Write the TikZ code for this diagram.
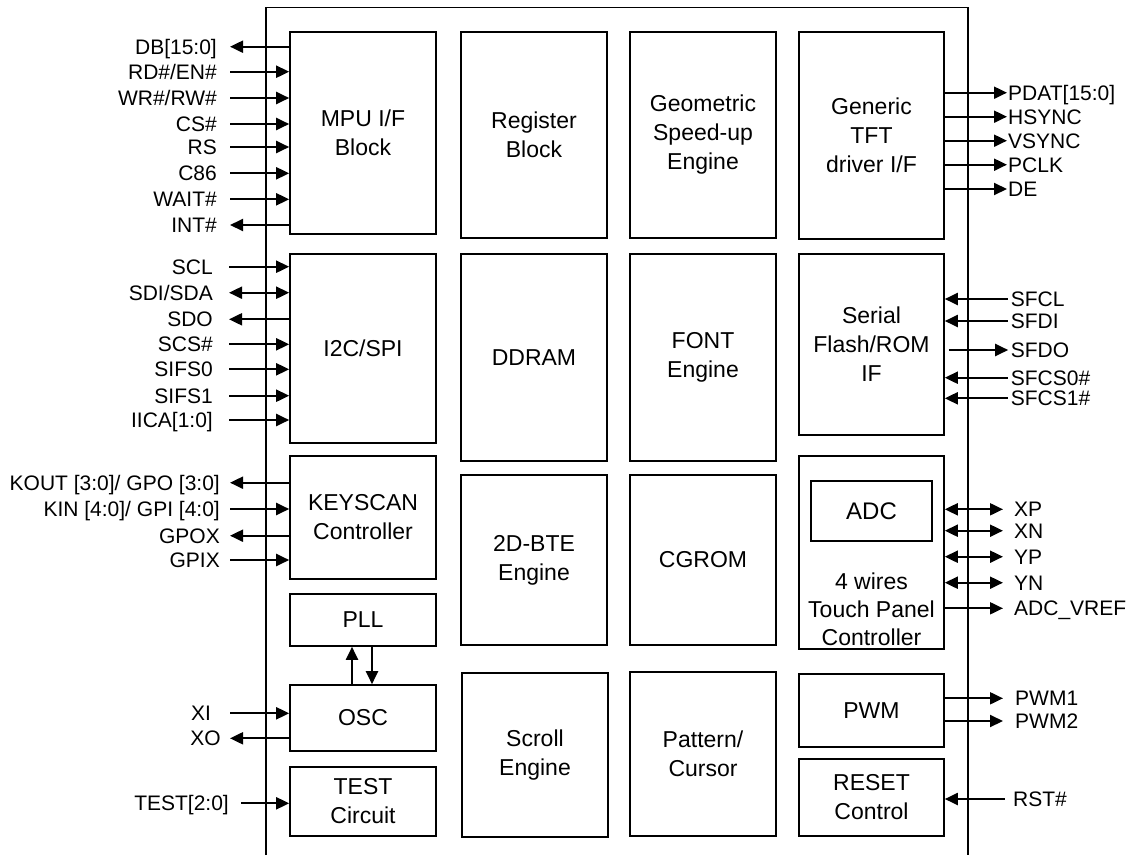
\documentclass[tikz,border=0pt]{standalone}
\usepackage{fontspec}
\setmainfont{Liberation Sans}
\usetikzlibrary{arrows.meta}
\tikzset{
  blk/.style={draw, line width=1.6pt, inner sep=0pt, align=center, font=\fontsize{23}{29}\selectfont},
  pinl/.style={inner sep=0pt, text height=15pt, text depth=0pt, font=\fontsize{21}{25}\selectfont},
  wire/.style={line width=2pt},
  ar/.style={-{Triangle[length=13pt,width=12pt]}},
  ra/.style={{Triangle[length=13pt,width=12pt]}-},
  rar/.style={{Triangle[length=13pt,width=12pt]}-{Triangle[length=13pt,width=12pt]}},
}
\begin{document}
\begin{tikzpicture}[x=1pt,y=-1pt]
\useasboundingbox (0,0) rectangle (1133,855);
% chip outline
\draw[line width=1.6pt] (266,855) -- (266,7.5) -- (968,7.5) -- (968,855);
% column 1
\node[blk, minimum width=146pt, minimum height=202pt] (mpu) at (363,133) {MPU I/F\\Block};
\node[blk, minimum width=146pt, minimum height=189pt] (i2c) at (363,348.5) {I2C/SPI};
\node[blk, minimum width=146pt, minimum height=123pt] (key) at (363,517.5) {KEYSCAN\\Controller};
\node[blk, minimum width=146pt, minimum height=52pt] (pll) at (363,620) {PLL};
\node[blk, minimum width=146pt, minimum height=66pt] (osc) at (363,718) {OSC};
\node[blk, minimum width=146pt, minimum height=69pt] (tst) at (363,801.5) {TEST\\Circuit};
% column 2
\node[blk, minimum width=146pt, minimum height=206pt] (reg) at (534,135) {Register\\Block};
\node[blk, minimum width=146pt, minimum height=207pt] (ddr) at (534,357.5) {DDRAM};
\node[blk, minimum width=146pt, minimum height=170pt] (bte) at (534,560) {2D-BTE\\Engine};
\node[blk, minimum width=146pt, minimum height=164pt] (scr) at (535,755) {Scroll\\Engine};
% column 3
\node[blk, minimum width=146pt, minimum height=206pt] (geo) at (703,135) {Geometric\\Speed-up\\Engine};
\node[blk, minimum width=146pt, minimum height=207pt] (fnt) at (703,357.5) {FONT\\Engine};
\node[blk, minimum width=146pt, minimum height=170pt] (cgr) at (703,560) {CGROM};
\node[blk, minimum width=146pt, minimum height=164pt] (pat) at (703,754) {Pattern/\\Cursor};
% column 4
\node[blk, minimum width=145pt, minimum height=207pt] (tft) at (871.5,135.5) {Generic\\TFT\\driver I/F};
\node[blk, minimum width=145pt, minimum height=181pt] (sfl) at (871.5,344.5) {Serial\\Flash/ROM\\IF};
\node[blk, minimum width=145pt, minimum height=193pt] (tch) at (871.5,552.5) {};
\node[blk, minimum width=121pt, minimum height=60pt, font=\fontsize{24}{29}\selectfont] (adc) at (871.5,511) {ADC};
\node[align=center, inner sep=0pt, font=\fontsize{23}{28}\selectfont] (tchtxt) at (871.5,609) {4 wires\\Touch Panel\\Controller};
\node[blk, minimum width=145pt, minimum height=73pt] (pwm) at (871.5,710.5) {PWM};
\node[blk, minimum width=145pt, minimum height=77pt] (rst) at (871.5,797.5) {RESET\\Control};
% PLL <-> OSC
\draw[wire, ar] ([xshift=-11pt]osc.north) -- ([xshift=-11pt]pll.south);
\draw[wire, ar] ([xshift=9pt]pll.south) -- ([xshift=9pt]osc.north);
% MPU pins
\foreach \yy/\lab/\nm/\sty in {46.7/{DB[15:0]}/pa/ra, 71.7/{RD\#/EN\#}/pb/ar, 98/{WR\#/RW\#}/pc/ar,
  124/{CS\#}/pd/ar, 147/{RS}/pe/ar, 173.3/{C86}/pf/ar, 199.3/{WAIT\#}/pg/ar, 225/{INT\#}/ph/ra}{
  \node[pinl, anchor=east] (\nm) at (217,\yy) {\lab};
  \draw[wire, \sty, shorten <=13pt] (\nm.east) -- (\nm.east -| mpu.west);
}
% I2C pins
\foreach \yy/\lab/\nm/\sty in {266.7/{SCL}/qa/ar, 292.7/{SDI/SDA}/qb/rar, 319.3/{SDO}/qc/ra,
  344.3/{SCS\#}/qd/ar, 369.3/{SIFS0}/qe/ar, 395.7/{SIFS1}/qf/ar, 420/{IICA[1:0]}/qg/ar}{
  \node[pinl, anchor=east] (\nm) at (213,\yy) {\lab};
  \draw[wire, \sty, shorten <=16pt] (\nm.east) -- (\nm.east -| i2c.west);
}
% KEYSCAN pins
\foreach \yy/\lab/\nm/\sty in {482.7/{KOUT [3:0]/ GPO [3:0]}/ka/ra, 509/{KIN [4:0]/ GPI [4:0]}/kb/ar,
  535.7/{GPOX}/kc/ra, 560/{GPIX}/kd/ar}{
  \node[pinl, anchor=east] (\nm) at (220,\yy) {\lab};
  \draw[wire, \sty, shorten <=10pt] (\nm.east) -- (\nm.east -| key.west);
}
% OSC pins
\node[pinl, anchor=west] (xi) at (191,713.3) {XI};
\draw[wire, ar, shorten <=19pt] (xi.east) -- (xi.east -| osc.west);
\node[pinl, anchor=east] (xo) at (221,738.3) {XO};
\draw[wire, ra, shorten <=9pt] (xo.east) -- (xo.east -| osc.west);
% TEST pins
\node[pinl, anchor=east] (tp) at (229,803.3) {TEST[2:0]};
\draw[wire, ar, shorten <=12pt] (tp.east) -- (tp.east -| tst.west);
% TFT pins
\foreach \yy/\lab/\nm/\sty in {92.7/{PDAT[15:0]}/ta, 116.7/{HSYNC}/tb, 140.7/{VSYNC}/tc,
  164.7/{PCLK}/td, 189/{DE}/te}{
  \node[pinl, anchor=west] (\nm) at (1008,\yy) {\lab};
  \draw[wire, ar, shorten >=1pt] (\nm.west -| tft.east) -- (\nm.west);
}
% Serial flash pins
\foreach \yy/\lab/\nm in {299/{SFCL}/sa, 321/{SFDI}/sb, 377.7/{SFCS0\#}/sd, 398.3/{SFCS1\#}/se}{
  \node[pinl, anchor=west] (\nm) at (1010.7,\yy) {\lab};
  \draw[wire, ra, shorten >=2.5pt] (\nm.west -| sfl.east) -- (\nm.west);
}
\node[pinl, anchor=west] (sc) at (1010.7,350) {SFDO};
\draw[wire, ar, shorten <=4pt, shorten >=2.5pt] (sc.west -| sfl.east) -- (sc.west);
% Touch panel pins
\foreach \yy/\lab/\nm/\sty in {509.3/{XP}/ua/rar, 530.7/{XN}/ub/rar, 556.7/{YP}/uc/rar,
  582.7/{YN}/ud/rar, 608.3/{ADC\_VREF}/ue/ar}{
  \node[pinl, anchor=west] (\nm) at (1014,\yy) {\lab};
  \draw[wire, \sty, shorten >=11pt] (\nm.west -| tch.east) -- (\nm.west);
}
% PWM pins
\foreach \yy/\lab/\nm in {698.3/{PWM1}/wa, 721/{PWM2}/wb}{
  \node[pinl, anchor=west] (\nm) at (1015,\yy) {\lab};
  \draw[wire, ar, shorten >=12pt] (\nm.west -| pwm.east) -- (\nm.west);
}
% RESET pin
\node[pinl, anchor=west] (rp) at (1013,799) {RST\#};
\draw[wire, ra, shorten >=8pt] (rp.west -| rst.east) -- (rp.west);
\end{tikzpicture}
\end{document}
